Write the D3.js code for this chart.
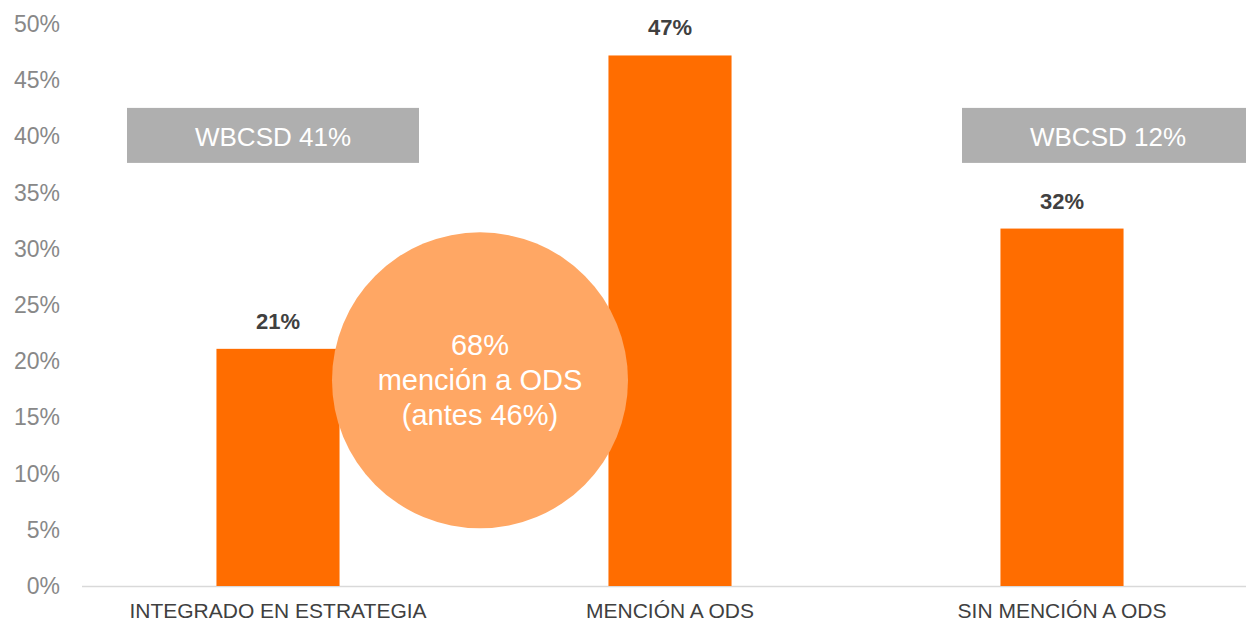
<!DOCTYPE html>
<html>
<head>
<meta charset="utf-8">
<script src="https://cdn.jsdelivr.net/npm/d3@7"></script>
<style>
  body { margin: 0; background: #fff; }
  svg { display: block; font-family: "Liberation Sans", Arial, sans-serif; }
</style>
</head>
<body>
<svg id="chart" width="1246" height="621"></svg>
<script>
// data
const categories = ["INTEGRADO EN ESTRATEGIA", "MENCIÓN A ODS", "SIN MENCIÓN A ODS"];
const values = [0.211, 0.472, 0.318];
const yTicks = [0, 0.05, 0.10, 0.15, 0.20, 0.25, 0.30, 0.35, 0.40, 0.45, 0.50];
const boxLabels = ["WBCSD 41%", null, "WBCSD 12%"];
const circleLines = ["68%", "mención a ODS", "(antes 46%)"];

const svg = d3.select('#chart');
const plotLeft = 82, plotRight = 1258, plotTop = 24, plotBottom = 586;

const x = d3.scaleBand().domain(categories).range([plotLeft, plotRight]).padding(0);
const y = d3.scaleLinear().domain([0, 0.5]).range([plotBottom, plotTop]);
const barW = x.bandwidth() * 0.314;
const cx = d => x(d) + x.bandwidth() / 2;

// y tick labels
svg.append('g').selectAll('text')
    .data(yTicks)
    .join('text')
    .attr('x', 60)
    .attr('y', d => y(d))
    .attr('dy', '0.35em')
    .attr('text-anchor', 'end')
    .attr('font-size', 23)
    .attr('fill', '#888')
    .text(d => Math.round(d * 100) + '%');

// baseline
svg.append('line')
    .attr('x1', plotLeft).attr('x2', 1246)
    .attr('y1', y(0) + 0.5).attr('y2', y(0) + 0.5)
    .attr('stroke', '#d9d9d9').attr('stroke-width', 1.5);

// bars
svg.append('g').selectAll('rect')
    .data(categories)
    .join('rect')
    .attr('x', d => cx(d) - barW / 2)
    .attr('width', barW)
    .attr('y', (d, i) => y(values[i]))
    .attr('height', (d, i) => y(0) - y(values[i]))
    .attr('fill', '#ff6d00');

// bar value labels
svg.append('g').selectAll('text')
    .data(categories)
    .join('text')
    .attr('x', d => cx(d))
    .attr('y', (d, i) => y(values[i]) - 20)
    .attr('text-anchor', 'middle')
    .attr('font-size', 22)
    .attr('font-weight', 'bold')
    .attr('fill', '#404040')
    .text((d, i) => Math.round(values[i] * 100) + '%');

// category labels
svg.append('g').selectAll('text')
    .data(categories)
    .join('text')
    .attr('x', d => cx(d))
    .attr('y', 618)
    .attr('text-anchor', 'middle')
    .attr('font-size', 21)
    .attr('fill', '#404040')
    .text(d => d);

// grey WBCSD boxes
const boxW = 292, boxH = 55;
const boxShift = [-5, null, 46];
const boxes = categories.map((c, i) => ({c, label: boxLabels[i], shift: boxShift[i]}))
    .filter(b => b.label);
const bg = svg.append('g').selectAll('g')
    .data(boxes)
    .join('g')
    .attr('transform', d => `translate(${cx(d.c) + d.shift},${y(0.40)})`);
bg.append('rect')
    .attr('x', -boxW / 2).attr('y', -boxH / 2 - 1)
    .attr('width', boxW).attr('height', boxH)
    .attr('fill', '#afafaf');
bg.append('text')
    .attr('text-anchor', 'middle')
    .attr('dy', '0.35em')
    .attr('font-size', 26)
    .attr('fill', '#fff')
    .text(d => d.label);

// circle callout
const ccx = (cx(categories[0]) + cx(categories[1])) / 2 + 6;
const ccy = y(0.183);
svg.append('circle')
    .attr('cx', ccx).attr('cy', ccy).attr('r', 148)
    .attr('fill', '#ffa764');
svg.append('g').selectAll('text')
    .data(circleLines)
    .join('text')
    .attr('x', ccx)
    .attr('y', (d, i) => ccy + (i - 1) * 35)
    .attr('dy', '0.35em')
    .attr('text-anchor', 'middle')
    .attr('font-size', 29)
    .attr('fill', '#fff')
    .text(d => d);
</script>
</body>
</html>
